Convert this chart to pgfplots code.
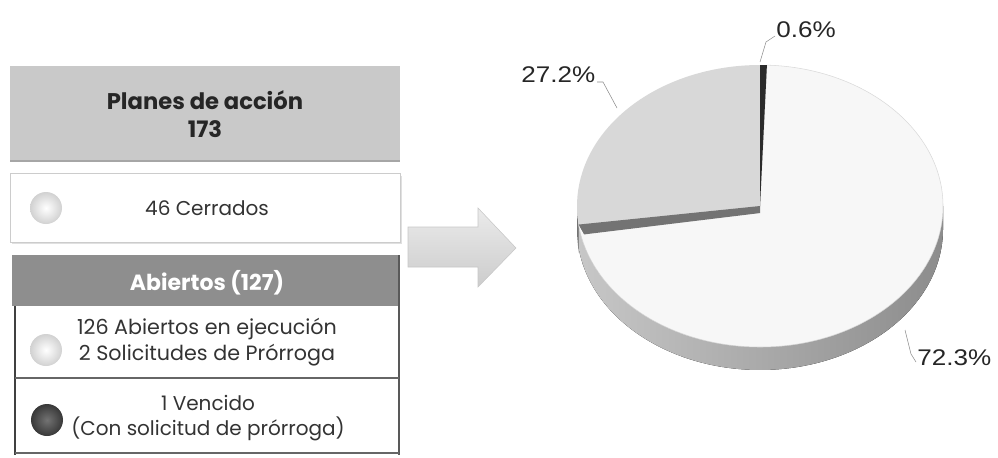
\documentclass[border=0pt]{standalone}
\usepackage{pgfplots}
\pgfplotsset{compat=1.18}
\usepackage{pgfplotstable}
\usepackage{fontspec}
\setmainfont{Poppins}
\newfontfamily\arial[FakeStretch=1.15]{Liberation Sans}

\pgfplotstableread{
label value
Vencido 0.6
Abiertos 72.3
Cerrados 27.2
}\piedata

\definecolor{boxgray}{HTML}{C9C9C9}
\definecolor{headgray}{HTML}{8E8E8E}
\definecolor{slicegray}{HTML}{D8D8D8}
\definecolor{slicewhite}{HTML}{F7F7F7}
\definecolor{slicedark}{HTML}{2B2B2B}

\begin{document}
\begin{tikzpicture}
\useasboundingbox (0,0) rectangle (748.5pt,-342.75pt);

\pgfplotstablegetelem{0}{value}\of\piedata \let\va\pgfplotsretval
\pgfplotstablegetelem{1}{value}\of\piedata \let\vb\pgfplotsretval
\pgfplotstablegetelem{2}{value}\of\piedata \let\vc\pgfplotsretval
\pgfmathsetmacro{\aA}{90-3.6*\va}
\pgfmathsetmacro{\aB}{\aA-3.6*\vb}
\pgfmathsetmacro{\aBp}{\aB+360}
\pgfmathsetmacro{\aC}{\aB-3.6*\vc+360}

\begin{axis}[at={(570pt,-154.5pt)}, anchor=origin, hide axis, scale only axis,
  width=274.5pt, height=211.5pt, xmin=-1, xmax=1, ymin=-1, ymax=1, clip=false]
\addplot[draw=none, forget plot] coordinates {(0,0)};
% side wall of the large slice
\fill[left color=black!22, right color=black!45]
  (axis cs:{cos(\aBp)},{sin(\aBp)}) arc[start angle=\aBp, end angle=360, x radius=137.25pt, y radius=105.75pt]
  -- (axis cs:1,-0.163) arc[start angle=360, end angle=\aBp, x radius=137.25pt, y radius=105.75pt] -- cycle;
% side wall of the grey slice (left end)
\fill[black!55]
  (axis cs:-1,0) arc[start angle=180, end angle=\aBp, x radius=137.25pt, y radius=105.75pt]
  -- (axis cs:{cos(\aBp)},{sin(\aBp)-0.2}) -- (axis cs:-1,-0.2) -- cycle;
% top faces
\fill[slicewhite, draw=black!15] (axis cs:0,0) -- (axis cs:{cos(\aA)},{sin(\aA)})
  arc[start angle=\aA, end angle=\aB, x radius=137.25pt, y radius=105.75pt] -- cycle;
\fill[slicegray] (axis cs:0,0) -- (axis cs:{cos(\aC)},{sin(\aC)})
  arc[start angle=\aC, end angle=\aBp, x radius=137.25pt, y radius=105.75pt] -- cycle;
% cut face of the grey slice
\fill[black!55] (axis cs:0,0) -- (axis cs:{cos(\aBp)},{sin(\aBp)})
  -- (axis cs:{cos(\aBp)+0.03},{sin(\aBp)-0.07}) -- (axis cs:0.0,-0.05) -- cycle;
\fill[slicedark] (axis cs:0,0) -- (axis cs:0,1)
  arc[start angle=90, end angle=\aA, x radius=137.25pt, y radius=105.75pt] -- cycle;
\end{axis}

\begin{scope}[x=0.75pt,y=-0.75pt]
% ---------- left panel ----------
\fill[boxgray] (10,66) rectangle (400,162);
\draw[gray!70, line width=1.5pt] (10,161) -- (400,161);
\node[font=\bfseries\fontsize{17}{20.5}\selectfont, text=black!85, align=center] at (205,114) {Planes de acción\\173};
\fill[black!12] (12,176) rectangle (402,244);
\fill[white] (10,173) rectangle (400,242);
\draw[black!20] (10,173) rectangle (400,242);
\shade[inner color=white, outer color=black!18] (46,208) circle[radius=16];
\node[font=\fontsize{15}{18}\selectfont, text=black!80] at (207,208) {46 Cerrados};
\fill[headgray] (12,255) rectangle (400,306);
\node[font=\bfseries\fontsize{16.5}{20}\selectfont, text=white] at (207,283) {Abiertos (127)};
\draw[black!75, line width=1.6pt] (15,306) -- (15,455);
\draw[black!65, line width=1.4pt] (399,255) -- (399,455);
\draw[black!60, line width=1.4pt] (15,453) -- (399,453);
\draw[black!60, line width=1.8pt] (15,378) -- (399,378);
\shade[inner color=white, outer color=black!18] (46,350) circle[radius=16];
\node[font=\fontsize{15.5}{19}\selectfont, text=black!80, align=center] at (207,342) {126 Abiertos en ejecución\\2 Solicitudes de Prórroga};
\shade[inner color=black!55, outer color=black!78] (47,420) circle[radius=16];
\node[font=\fontsize{15}{19}\selectfont, text=black!80, align=center] at (208,418) {1 Vencido\\(Con solicitud de prórroga)};

\shade[top color=black!8, bottom color=black!20, draw=black!22]
  (408,227) -- (478,227) -- (478,208) -- (516,248) -- (478,287) -- (478,267) -- (408,267) -- cycle;

% labels
\draw[black!45, line width=0.4pt] (775,36) -- (766,42) -- (760,62);
\draw[black!45, line width=0.4pt] (597,82) -- (603,82) -- (617,108);
\draw[black!45, line width=0.4pt] (916,362) -- (911,354) -- (905,330);
\begin{scope}[font=\arial\fontsize{17}{20}\selectfont, text=black!85]
\node[anchor=base west, inner sep=0pt] at (776,37) {0.6\%};
\node[anchor=base west, inner sep=0pt] at (521,82) {27.2\%};
\node[anchor=base west, inner sep=0pt] at (917,365) {72.3\%};
\end{scope}
\end{scope}
\end{tikzpicture}
\end{document}
